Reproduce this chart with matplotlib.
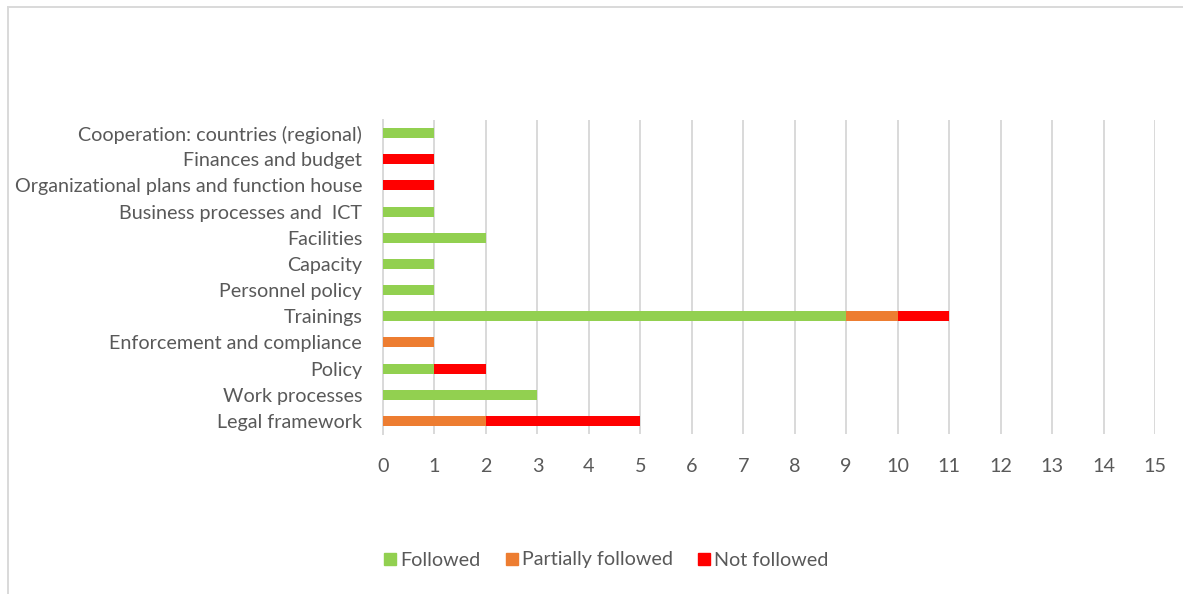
import matplotlib
matplotlib.use("Agg")
import matplotlib.pyplot as plt
from matplotlib.lines import Line2D
import numpy as np

categories = [
    "Legal framework",
    "Work processes",
    "Policy",
    "Enforcement and compliance",
    "Trainings",
    "Personnel policy",
    "Capacity",
    "Facilities",
    "Business processes and  ICT",
    "Organizational plans and function house",
    "Finances and budget",
    "Cooperation: countries (regional)",
]
followed = [0, 3, 1, 0, 9, 1, 1, 2, 1, 0, 0, 1]
partially_followed = [2, 0, 0, 1, 1, 0, 0, 0, 0, 0, 0, 0]
not_followed = [3, 0, 1, 0, 1, 0, 0, 0, 0, 1, 1, 0]
series_names = ["Followed", "Partially followed", "Not followed"]
colors = ["#92D050", "#ED7D31", "#FF0000"]
x_ticks = list(range(0, 16))

plt.rcParams["font.family"] = ["Lato", "DejaVu Sans"]
text_color = "#595959"
grid_color = "#D9D9D9"
fs = 14.2

fig = plt.figure(figsize=(11.83, 5.94), dpi=100)
ax = fig.add_axes([383 / 1183, 1 - 434 / 594, (1155 - 383) / 1183, (434 - 120) / 594])

y = np.arange(len(categories))
left = np.zeros(len(categories))
for vals, name, col in zip([followed, partially_followed, not_followed], series_names, colors):
    ax.barh(y, vals, left=left, height=0.38, color=col, label=name, zorder=3)
    left += np.array(vals)

ax.set_xlim(0, 15)
ax.set_ylim(-0.5, len(categories) - 0.5)
ax.set_xticks(x_ticks)
ax.set_xticklabels([str(t) for t in x_ticks])
ax.set_yticks(y)
ax.set_yticklabels(categories)
ax.grid(axis="x", color=grid_color, linewidth=1.4, zorder=0)
ax.tick_params(axis="both", length=0, labelsize=fs, colors=text_color)
ax.tick_params(axis="y", pad=15)
ax.tick_params(axis="x", pad=17)
for side in ["top", "right", "bottom"]:
    ax.spines[side].set_visible(False)
ax.spines["left"].set_color(grid_color)
ax.spines["left"].set_linewidth(1.4)

handles = [Line2D([0], [0], marker="s", linestyle="none", markersize=8.5,
                  markerfacecolor=c, markeredgecolor=c) for c in colors]
fig.legend(handles, series_names, loc="center", bbox_to_anchor=(605 / 1183, 1 - 560 / 594),
           ncol=3, frameon=False, fontsize=fs, labelcolor=text_color,
           handletextpad=0.05, columnspacing=1.15, handlelength=0.9)

# chart frame edges
fig.add_artist(Line2D([8 / 1183, 8 / 1183], [0, 1 - 7 / 594], transform=fig.transFigure,
                      color=grid_color, linewidth=1.4))
fig.add_artist(Line2D([8 / 1183, 1], [1 - 7 / 594, 1 - 7 / 594], transform=fig.transFigure,
                      color=grid_color, linewidth=1.4))

fig.savefig("out.png", dpi=100, facecolor="white")
